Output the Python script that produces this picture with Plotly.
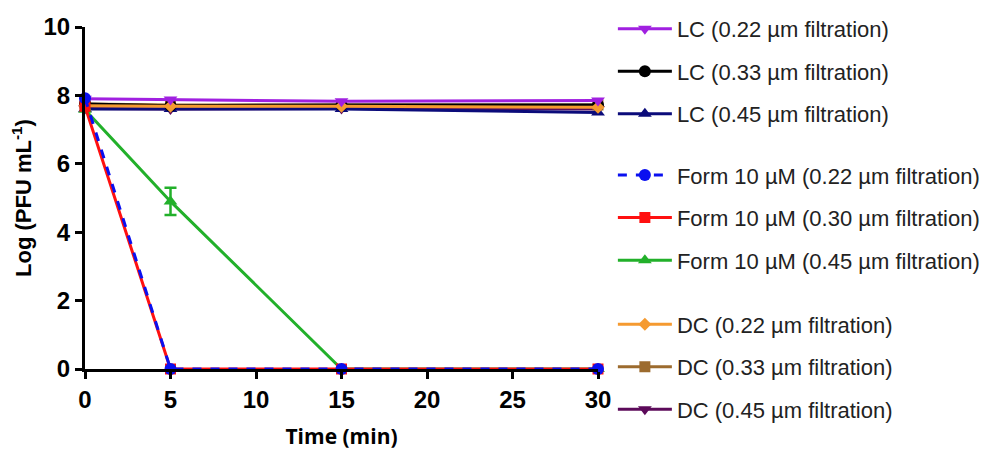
import plotly.graph_objects as go

time_min = [0, 5, 15, 30]

lc_022 = [7.90, 7.88, 7.83, 7.85]
lc_033 = [7.75, 7.70, 7.72, 7.72]
lc_045 = [7.60, 7.60, 7.60, 7.50]
form_022 = [7.92, 0, 0, 0]
form_030 = [7.68, 0, 0, 0]
form_045 = [7.58, 4.90, 0, 0]
form_045_err = [0, 0.40, 0, 0]
dc_022 = [7.70, 7.68, 7.68, 7.65]
dc_033 = [7.75, 7.72, 7.72, 7.72]
dc_045 = [7.62, 7.60, 7.62, 7.60]

x_ticks = [0, 5, 10, 15, 20, 25, 30]
y_ticks = [0, 2, 4, 6, 8, 10]

fig = go.Figure()

def add(name, y, color, symbol, legend, rank, dash="solid", err=None, msize=12):
    fig.add_trace(go.Scatter(
        x=time_min, y=y, name=name, mode="lines+markers",
        line=dict(color=color, width=3, dash=dash),
        marker=dict(color=color, symbol=symbol, size=msize),
        error_y=dict(type="data", array=err, color=color, thickness=2.5, width=6, visible=True) if err else None,
        legend=legend, legendgroup=name, legendrank=rank, cliponaxis=False,
    ))

add("DC (0.45 µm filtration)", dc_045, "#5c0a5a", "triangle-down", "legend3", 9)
add("DC (0.33 µm filtration)", dc_033, "#9c6b2e", "square", "legend3", 8, msize=11)
add("LC (0.45 µm filtration)", lc_045, "#0b0b7a", "triangle-up", "legend", 3)
add("LC (0.33 µm filtration)", lc_033, "#000000", "circle", "legend", 2)
add("DC (0.22 µm filtration)", dc_022, "#f59a30", "diamond", "legend3", 7, msize=10)
add("LC (0.22 µm filtration)", lc_022, "#a020e0", "triangle-down", "legend", 1)
add("Form 10 µM (0.45 µm filtration)", form_045, "#22b02a", "triangle-up", "legend2", 6, err=form_045_err)
add("Form 10 µM (0.30 µm filtration)", form_030, "#ff1010", "square", "legend2", 5, msize=11)
add("Form 10 µM (0.22 µm filtration)", form_022, "#0a10f0", "circle", "legend2", 4, dash="dash")

leg_common = dict(
    font=dict(family="Liberation Sans, Arial, sans-serif", size=22, color="#222"),
    traceorder="grouped", tracegroupgap=11, itemwidth=54,
    xanchor="left", yanchor="top", bgcolor="rgba(0,0,0,0)",
)

fig.update_layout(
    width=987, height=442,
    margin=dict(l=77, r=397, t=19, b=81, autoexpand=False),
    plot_bgcolor="white", paper_bgcolor="white",
    showlegend=True,
    legend=dict(x=1.029, y=1.056, **leg_common),
    legend2=dict(x=1.029, y=0.628, **leg_common),
    legend3=dict(x=1.029, y=0.192, **leg_common),
    xaxis=dict(
        range=[0, 30], tickvals=x_ticks, ticktext=[str(v) for v in x_ticks],
        showline=True, linecolor="black", linewidth=3,
        ticks="outside", ticklen=7, tickwidth=3, tickcolor="black",
        showgrid=False, zeroline=False,
        tickfont=dict(family="Liberation Sans, Arial, sans-serif", size=24, color="black", weight="bold"),
        title=dict(text="<b>Time (min)</b>", font=dict(family="Open Sans, sans-serif", size=21, color="black"), standoff=18),
    ),
    yaxis=dict(
        range=[0, 10], tickvals=y_ticks, ticktext=[str(v) for v in y_ticks],
        showline=True, linecolor="black", linewidth=3,
        ticks="outside", ticklen=7, tickwidth=3, tickcolor="black",
        showgrid=False, zeroline=False,
        tickfont=dict(family="Liberation Sans, Arial, sans-serif", size=24, color="black", weight="bold"),
        title=dict(text="<b>Log (PFU mL<sup>-1</sup>)</b>", font=dict(family="Liberation Sans, Arial, sans-serif", size=22, color="black"), standoff=9),
    ),
)

fig.write_html("out.html")
